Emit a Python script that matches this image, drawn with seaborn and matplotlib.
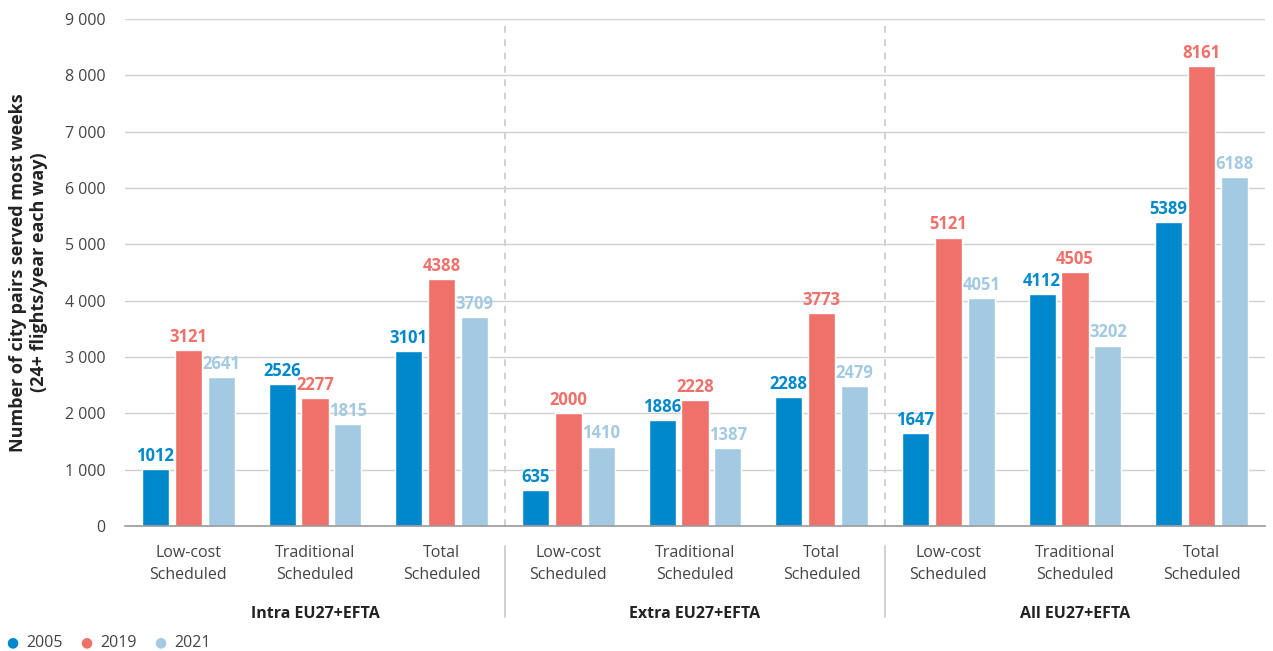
import matplotlib
matplotlib.use("Agg")
import matplotlib.pyplot as plt
import seaborn as sns
import pandas as pd
import numpy as np

categories = ["Low-cost\nScheduled", "Traditional\nScheduled", "Total\nScheduled"] * 3
groups = ["Intra EU27+EFTA", "Extra EU27+EFTA", "All EU27+EFTA"]
years = ["2005", "2019", "2021"]
v2005 = [1012, 2526, 3101, 635, 1886, 2288, 1647, 4112, 5389]
v2019 = [3121, 2277, 4388, 2000, 2228, 3773, 5121, 4505, 8161]
v2021 = [2641, 1815, 3709, 1410, 1387, 2479, 4051, 3202, 6188]
yticks = [0, 1000, 2000, 3000, 4000, 5000, 6000, 7000, 8000, 9000]
ytick_labels = ["0", "1 000", "2 000", "3 000", "4 000", "5 000", "6 000", "7 000", "8 000", "9 000"]
colors = {"2005": "#0088CC", "2019": "#F0706A", "2021": "#A3CAE2"}

cat_ids = [f"c{i}" for i in range(9)]
rows = []
for yr, vals in zip(years, [v2005, v2019, v2021]):
    for cid, v in zip(cat_ids, vals):
        rows.append({"cat": cid, "year": yr, "value": v})
df = pd.DataFrame(rows)

sns.set_theme(style="white")
plt.rcParams["font.family"] = ["Open Sans", "DejaVu Sans"]

fig = plt.figure(figsize=(12.73, 6.51), dpi=100)
W, H = 1273, 651
left, right, top, bottom = 125, 1265, 19, 526
ax = fig.add_axes([left / W, 1 - bottom / H, (right - left) / W, (bottom - top) / H])

sns.barplot(data=df, x="cat", y="value", hue="year", order=cat_ids, hue_order=years,
            palette=colors, width=0.78, gap=0.18, ax=ax, legend=False, errorbar=None,
            saturation=1)

ax.set_ylim(0, 9000)
ax.set_xlim(-0.5, 8.5)
ax.set_yticks(yticks)
ax.set_yticklabels(ytick_labels, fontsize=11.5, color="#444444")
ax.set_xticks(range(9))
ax.set_xticklabels(categories, fontsize=11.5, color="#444444", linespacing=1.45)
ax.tick_params(axis="x", length=0, pad=14)
ax.tick_params(axis="y", length=0, pad=14)
ax.set_xlabel("")
ax.set_ylabel("Number of city pairs served most weeks\n(24+ flights/year each way)",
              fontsize=13, fontweight="bold", color="#222222", labelpad=12, linespacing=1.2)
ax.grid(axis="y", color="#d0d0d0", linewidth=1)
ax.set_axisbelow(True)
for s in ["top", "right", "left"]:
    ax.spines[s].set_visible(False)
ax.spines["bottom"].set_color("#999999")
ax.spines["bottom"].set_linewidth(1.2)

# value labels
for cont, yr in zip(ax.containers, years):
    ax.bar_label(cont, labels=[str(int(b.get_height())) for b in cont], padding=3,
                 fontsize=12, fontweight="bold", color=colors[yr])

# dashed separators in plot
for xs in [2.5, 5.5]:
    ax.axvline(xs, color="#c8c8c8", linestyle=(0, (4, 4)), linewidth=1.2, zorder=0)
    ax.plot([xs, xs], [-0.04, -0.18], transform=ax.get_xaxis_transform(), color="#c8c8c8",
            linewidth=1.2, clip_on=False)

# group labels
for i, g in enumerate(groups):
    ax.text(3 * i + 1, -0.173, g, transform=ax.get_xaxis_transform(), ha="center", va="center",
            fontsize=11.5, fontweight="bold", color="#222222")

# legend
lx = [12, 86, 160]
for x0, yr in zip(lx, years):
    fig.text(x0 / W, 1 - 643 / H, "\u25CF", color=colors[yr], fontsize=10, ha="center", va="center")
    fig.text((x0 + 14) / W, 1 - 643 / H, yr, color="#444444", fontsize=11.5, ha="left", va="center")

fig.savefig("out.png", dpi=100)
